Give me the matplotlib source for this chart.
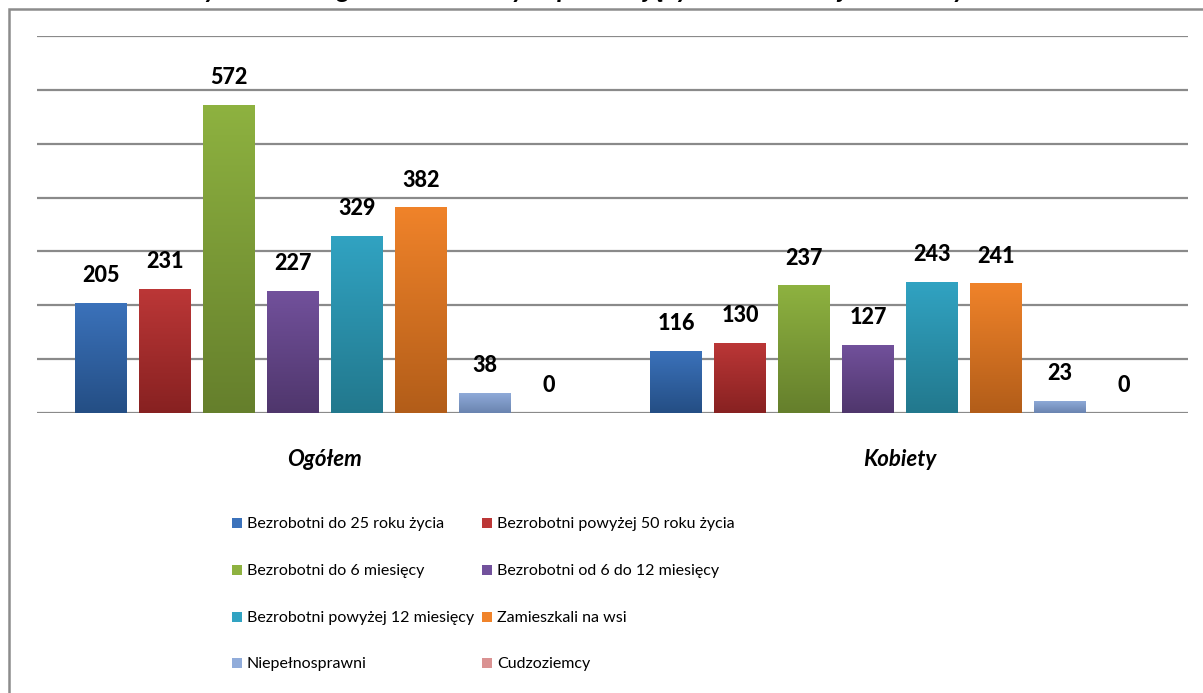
import numpy as np
import matplotlib
matplotlib.use("Agg")
import matplotlib.pyplot as plt
from matplotlib.patches import Rectangle
from matplotlib.colors import LinearSegmentedColormap

# data
categories = ["Ogółem", "Kobiety"]
series = [
    "Bezrobotni do 25 roku życia",
    "Bezrobotni powyżej 50 roku życia",
    "Bezrobotni do 6 miesięcy",
    "Bezrobotni od 6 do 12 miesięcy",
    "Bezrobotni powyżej 12 miesięcy",
    "Zamieszkali na wsi",
    "Niepełnosprawni",
    "Cudzoziemcy",
]
ogolem = [205, 231, 572, 227, 329, 382, 38, 0]
kobiety = [116, 130, 237, 127, 243, 241, 23, 0]
values = [ogolem, kobiety]

# gradient colours (top, bottom)
colors_top = ["#3B72BB", "#BC3737", "#8EB240", "#72519C", "#31A3C2", "#F0832A", "#91ACDA", "#DA9292"]
colors_bot = ["#244E84", "#872121", "#657F2C", "#4F366C", "#22788D", "#B25D19", "#6A84B0", "#A86A6A"]

title = "Wybrane kategorie bezrobotnych pozostających w ewidencji w badanym okresie"

W, H = 1203, 693
fig = plt.figure(figsize=(W / 100, H / 100), dpi=100)
fig.patch.set_facecolor("white")

# outer frame
fig.add_artist(Rectangle((9 / W, -0.05), 1.2, (H - 9) / H + 0.05, transform=fig.transFigure,
                         fill=False, edgecolor="#8C8C8C", linewidth=1.8))

# title, mostly cut off at the top (only descenders show)
fig.text(0.52, (H + 2) / H, title, ha="center", va="baseline", fontsize=19,
         fontweight="bold", style="italic", family=["Lato", "DejaVu Sans"])

ax = fig.add_axes([37 / W, 1 - 413 / H, (1188 - 37) / W, (413 - 36) / H])
ax.set_xlim(-0.5, 1.5)
ax.set_ylim(0, 700)
ax.set_yticks(np.arange(0, 701, 100))
ax.yaxis.grid(True, color="#8A8A8A", linewidth=1.6)
ax.set_axisbelow(True)
for s in ax.spines.values():
    s.set_visible(False)
ax.tick_params(axis="y", length=0, labelleft=False)

step = 64 / 575.5
width = 52 / 575.5
x = np.arange(len(categories))
grad = np.linspace(0, 1, 256).reshape(-1, 1)

for i, name in enumerate(series):
    vals = [v[i] for v in values]
    pos = x + (i - 3.5) * step
    bars = ax.bar(pos, vals, width=width, color="none", edgecolor="none", zorder=2)
    cmap = LinearSegmentedColormap.from_list("g%d" % i, [colors_bot[i], colors_top[i]])
    for b, v in zip(bars, vals):
        if v > 0:
            im = ax.imshow(grad, cmap=cmap, aspect="auto", origin="lower", zorder=2,
                           extent=[b.get_x(), b.get_x() + b.get_width(), 0, v])
            im.set_clip_path(b)
        ax.annotate(str(v), (b.get_x() + b.get_width() / 2, v), xytext=(0, 12),
                    textcoords="offset points", ha="center", va="bottom",
                    fontsize=15.5, fontweight=900, family=["Lato", "DejaVu Sans"])

ax.set_xlim(-0.5, 1.5)
ax.set_ylim(0, 700)
ax.set_xticks(x)
ax.set_xticklabels(categories, fontsize=16, fontweight="bold", style="italic",
                   family=["Lato", "DejaVu Sans"])
ax.tick_params(axis="x", length=0, pad=26)

# legend, two columns
leg_x = [232, 482]
leg_y = [523, 570, 617, 663]
for i, name in enumerate(series):
    col = i % 2
    row = i // 2
    lx = leg_x[col]
    ly = leg_y[row]
    fig.add_artist(Rectangle((lx / W, 1 - (ly + 5) / H), 10 / W, 10 / H,
                             transform=fig.transFigure, facecolor=colors_top[i],
                             edgecolor="none"))
    fig.text((lx + 15) / W, 1 - (ly + 1) / H, name, ha="left", va="center",
             fontsize=11.5, family=["Lato", "DejaVu Sans"])

fig.savefig("out.png", dpi=100)
